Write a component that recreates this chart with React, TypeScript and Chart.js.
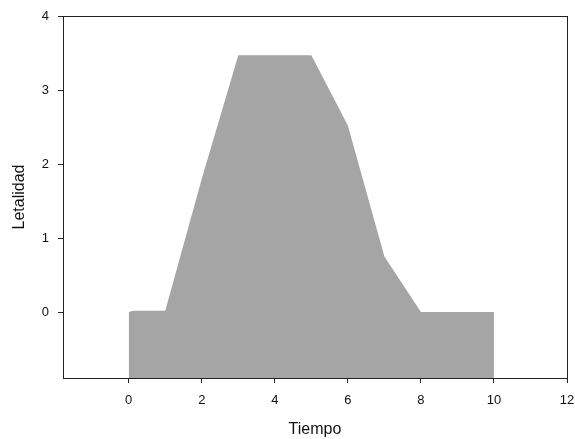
import React, { useEffect, useRef } from "react";
import { Chart, registerables } from "chart.js";

Chart.register(...registerables);

const tiempo = [0, 0.12, 1, 2, 3, 5, 6, 7, 8, 10];
const letalidad = [0, 0.02, 0.02, 1.8, 3.47, 3.47, 2.52, 0.75, 0, 0];
const xTicks = [0, 2, 4, 6, 8, 10, 12];
const yTicks = [0, 1, 2, 3, 4];

const FONT = "'Liberation Sans', Arial, sans-serif";

export default function App() {
  const ref = useRef<HTMLCanvasElement | null>(null);

  useEffect(() => {
    if (!ref.current) return;
    const frame = {
      id: "frame",
      afterDraw(chart: any) {
        const { ctx, chartArea } = chart;
        ctx.save();
        ctx.strokeStyle = "#222";
        ctx.lineWidth = 1;
        ctx.strokeRect(
          Math.round(chartArea.left) + 0.5,
          Math.round(chartArea.top) + 0.5,
          Math.round(chartArea.right - chartArea.left),
          Math.round(chartArea.bottom - chartArea.top)
        );
        ctx.restore();
      },
    };
    const chart = new Chart(ref.current, {
      type: "line",
      data: {
        datasets: [
          {
            data: tiempo.map((x, i) => ({ x, y: letalidad[i] })),
            fill: "start",
            backgroundColor: "#a5a5a5",
            borderWidth: 0,
            borderColor: "rgba(0,0,0,0)",
            pointRadius: 0,
            tension: 0,
          },
        ],
      },
      options: {
        responsive: false,
        animation: false,
        devicePixelRatio: 1,
        layout: { padding: { top: 16, right: 8, left: 0, bottom: 0 } },
        plugins: {
          legend: { display: false },
          tooltip: { enabled: false },
        },
        scales: {
          x: {
            type: "linear",
            min: -1.8,
            max: 12,
            afterBuildTicks: (s: any) => {
              s.ticks = xTicks.map((v) => ({ value: v }));
            },
            afterFit: (s: any) => {
              s.height = 61;
              s.paddingLeft = 0;
              s.paddingRight = 0;
            },
            border: { display: false },
            grid: {
              drawOnChartArea: false,
              drawTicks: true,
              tickLength: 5,
              color: "#222",
            },
            ticks: {
              color: "#111",
              font: { family: FONT, size: 13 },
              padding: 10,
              maxRotation: 0,
            },
            title: {
              display: true,
              text: "Tiempo",
              color: "#111",
              font: { family: FONT, size: 16 },
              padding: { top: 4, bottom: 0 },
            },
          },
          y: {
            type: "linear",
            min: -0.89,
            max: 4,
            afterBuildTicks: (s: any) => {
              s.ticks = yTicks.map((v) => ({ value: v }));
            },
            afterFit: (s: any) => {
              s.width = 63;
              s.paddingTop = 0;
              s.paddingBottom = 0;
            },
            border: { display: false },
            grid: {
              drawOnChartArea: false,
              drawTicks: true,
              tickLength: 5,
              color: "#222",
            },
            ticks: {
              color: "#111",
              font: { family: FONT, size: 13 },
              padding: 9,
            },
            title: {
              display: true,
              text: "Letalidad",
              color: "#111",
              font: { family: FONT, size: 16 },
              padding: { top: 10, bottom: 4 },
            },
          },
        },
      },
      plugins: [frame],
    });
    return () => chart.destroy();
  }, []);

  return (
    <div style={{ position: "absolute", left: 0, top: 0, width: 575, height: 439, background: "#fff" }}>
      <canvas ref={ref} width={575} height={439} style={{ display: "block" }} />
    </div>
  );
}
